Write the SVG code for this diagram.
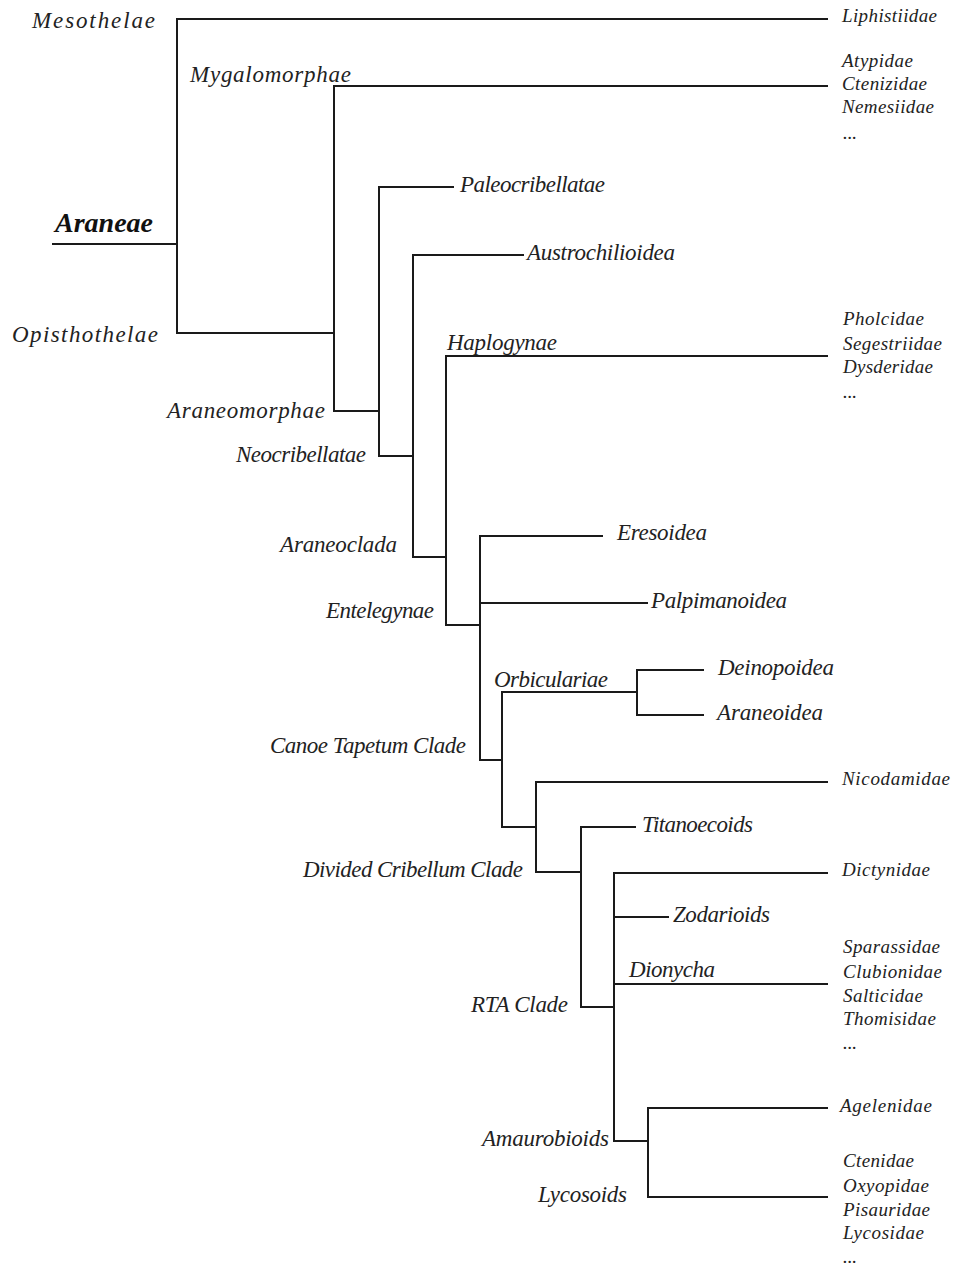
<svg xmlns="http://www.w3.org/2000/svg" width="959" height="1266" viewBox="0 0 959 1266">
<style>
.e{fill:none;stroke:#1a1a1a;stroke-width:2;stroke-linecap:square}
text{font-family:"Liberation Serif","Times New Roman",serif;font-style:italic;fill:#222}
.c{font-size:23px}
.t{font-size:19px}
.r{font-size:27px;font-weight:bold;fill:#111}
</style>
<rect width="959" height="1266" fill="#fff"/>
<g id="connectors">
<path class="e" d="M53 244H177M177 19V333M177 19H827M177 333H334"/>
<path class="e" d="M334 86V411M334 86H827M334 411H379"/>
<path class="e" d="M379 187V456M379 187H453M379 456H413"/>
<path class="e" d="M413 255V557M413 255H523M413 557H446"/>
<path class="e" d="M446 356V625M446 356H827M446 625H480"/>
<path class="e" d="M480 536V760M480 536H602M480 603H647M480 760H502"/>
<path class="e" d="M502 692V827M502 692H637M637 670V715M637 670H703M637 715H703M502 827H536"/>
<path class="e" d="M536 782V872M536 782H827M536 872H581"/>
<path class="e" d="M581 827V1007M581 827H635M581 1007H614"/>
<path class="e" d="M614 873V1141M614 873H827M614 917H668M614 984H827M614 1141H648"/>
<path class="e" d="M648 1108V1197M648 1108H827M648 1197H827"/>
</g>
<g id="araneae"><text class="r" x="55" y="232" textLength="98" lengthAdjust="spacingAndGlyphs">Araneae</text></g>
<g id="mesothelae"><text class="c" x="32" y="28" textLength="123">Mesothelae</text></g>
<g id="liphistiidae"><text class="t" x="842" y="22" textLength="95">Liphistiidae</text></g>
<g id="opisthothelae"><text class="c" x="12" y="342" textLength="146">Opisthothelae</text></g>
<g id="mygalomorphae"><text class="c" x="190" y="82" textLength="161">Mygalomorphae</text></g>
<g id="mygalomorphae-families">
<text class="t" x="842" y="67" textLength="71">Atypidae</text>
<text class="t" x="842" y="90" textLength="85">Ctenizidae</text>
<text class="t" x="842" y="113" textLength="92">Nemesiidae</text>
<text class="t" x="843" y="139" textLength="14">...</text>
</g>
<g id="araneomorphae"><text class="c" x="167" y="418" textLength="158">Araneomorphae</text></g>
<g id="paleocribellatae"><text class="c" x="460" y="192" textLength="145">Paleocribellatae</text></g>
<g id="neocribellatae"><text class="c" x="236" y="462" textLength="130">Neocribellatae</text></g>
<g id="austrochilioidea"><text class="c" x="527" y="260" textLength="148">Austrochilioidea</text></g>
<g id="araneoclada"><text class="c" x="280" y="552" textLength="117">Araneoclada</text></g>
<g id="haplogynae"><text class="c" x="447" y="350" textLength="110">Haplogynae</text></g>
<g id="haplogynae-families">
<text class="t" x="843" y="325" textLength="81">Pholcidae</text>
<text class="t" x="843" y="350" textLength="99">Segestriidae</text>
<text class="t" x="843" y="373" textLength="90">Dysderidae</text>
<text class="t" x="843" y="398" textLength="14">...</text>
</g>
<g id="entelegynae"><text class="c" x="326" y="618" textLength="108">Entelegynae</text></g>
<g id="eresoidea"><text class="c" x="617" y="540" textLength="90">Eresoidea</text></g>
<g id="palpimanoidea"><text class="c" x="651" y="608" textLength="136">Palpimanoidea</text></g>
<g id="canoe-tapetum-clade"><text class="c" x="270" y="753" textLength="196">Canoe Tapetum Clade</text></g>
<g id="orbiculariae"><text class="c" x="494" y="687" textLength="114">Orbiculariae</text></g>
<g id="deinopoidea"><text class="c" x="718" y="675" textLength="116">Deinopoidea</text></g>
<g id="araneoidea"><text class="c" x="717" y="720" textLength="106">Araneoidea</text></g>
<g id="nicodamidae"><text class="t" x="842" y="785" textLength="108">Nicodamidae</text></g>
<g id="divided-cribellum-clade"><text class="c" x="303" y="877" textLength="220">Divided Cribellum Clade</text></g>
<g id="titanoecoids"><text class="c" x="642" y="832" textLength="111">Titanoecoids</text></g>
<g id="rta-clade"><text class="c" x="471" y="1012" textLength="97">RTA Clade</text></g>
<g id="dictynidae"><text class="t" x="842" y="876" textLength="88">Dictynidae</text></g>
<g id="zodarioids"><text class="c" x="673" y="922" textLength="97">Zodarioids</text></g>
<g id="dionycha"><text class="c" x="629" y="977" textLength="86">Dionycha</text></g>
<g id="dionycha-families">
<text class="t" x="843" y="953" textLength="97">Sparassidae</text>
<text class="t" x="843" y="978" textLength="99">Clubionidae</text>
<text class="t" x="843" y="1002" textLength="80">Salticidae</text>
<text class="t" x="843" y="1025" textLength="93">Thomisidae</text>
<text class="t" x="843" y="1049" textLength="14">...</text>
</g>
<g id="amaurobioids"><text class="c" x="482" y="1146" textLength="127">Amaurobioids</text></g>
<g id="agelenidae"><text class="t" x="840" y="1112" textLength="92">Agelenidae</text></g>
<g id="lycosoids"><text class="c" x="538" y="1202" textLength="89">Lycosoids</text></g>
<g id="lycosoids-families">
<text class="t" x="843" y="1167" textLength="71">Ctenidae</text>
<text class="t" x="843" y="1192" textLength="86">Oxyopidae</text>
<text class="t" x="843" y="1216" textLength="87">Pisauridae</text>
<text class="t" x="843" y="1239" textLength="81">Lycosidae</text>
<text class="t" x="843" y="1263" textLength="14">...</text>
</g>
</svg>
